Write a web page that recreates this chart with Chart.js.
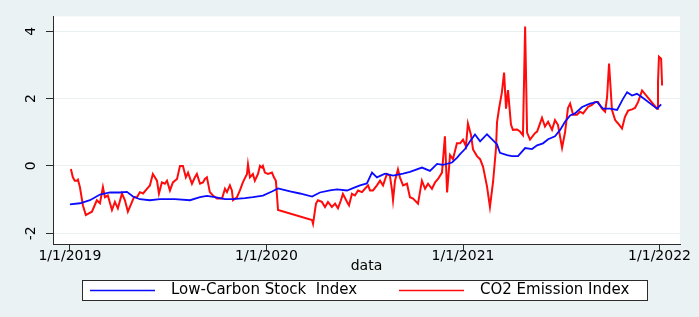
<!DOCTYPE html>
<html>
<head>
<meta charset="utf-8">
<script src="https://cdn.jsdelivr.net/npm/chart.js@4.4.1/dist/chart.umd.min.js"></script>
<style>
  html, body { margin: 0; padding: 0; background: #eaf2f3; }
  canvas { display: block; }
</style>
</head>
<body>
<canvas id="chart" width="699" height="317"></canvas>
<script>
// x positions are decimal years (2019.5 = mid 2019)
const tickYears = [2019, 2020, 2021, 2022];
const tickValues = [-2, 0, 2, 4];

const lowCarbonYears = [
  2019.000, 2019.051, 2019.102, 2019.153, 2019.204, 2019.254, 2019.290, 2019.321, 2019.356, 2019.407,
  2019.458, 2019.534, 2019.611, 2019.662, 2019.697, 2019.738, 2019.789, 2019.830, 2019.891, 2019.931,
  2019.982, 2020.028, 2020.059, 2020.120, 2020.170, 2020.232, 2020.272, 2020.323, 2020.359, 2020.410,
  2020.450, 2020.476, 2020.511, 2020.537, 2020.562, 2020.603, 2020.644, 2020.695, 2020.730, 2020.791,
  2020.832, 2020.868, 2020.898, 2020.944, 2020.969, 2020.985, 2021.010, 2021.036, 2021.061, 2021.087,
  2021.122, 2021.148, 2021.173, 2021.188, 2021.224, 2021.249, 2021.280, 2021.316, 2021.351, 2021.377,
  2021.407, 2021.433, 2021.468, 2021.494, 2021.519, 2021.545, 2021.570, 2021.606, 2021.646, 2021.682,
  2021.712, 2021.748, 2021.784, 2021.814, 2021.835, 2021.860, 2021.885, 2021.911, 2021.987, 2022.008
];
const lowCarbonValues = [
  -1.14, -1.11, -1.02, -0.85, -0.79, -0.79, -0.77, -0.91, -0.99, -1.02,
  -0.99, -0.99, -1.02, -0.93, -0.89, -0.93, -0.99, -0.99, -0.96, -0.93,
  -0.88, -0.76, -0.67, -0.76, -0.82, -0.91, -0.79, -0.73, -0.70, -0.73,
  -0.64, -0.58, -0.52, -0.20, -0.34, -0.23, -0.29, -0.23, -0.18, -0.05,
  -0.15, 0.06, 0.03, 0.10, 0.24, 0.35, 0.50, 0.73, 0.93, 0.73,
  0.94, 0.79, 0.64, 0.39, 0.32, 0.29, 0.29, 0.53, 0.50, 0.61,
  0.67, 0.79, 0.88, 1.07, 1.31, 1.50, 1.56, 1.75, 1.85, 1.90,
  1.70, 1.70, 1.66, 1.99, 2.19, 2.09, 2.14, 2.04, 1.70, 1.83
];

const co2Years = [
  2019.005, 2019.015, 2019.025, 2019.036, 2019.041, 2019.051, 2019.066, 2019.081, 2019.112, 2019.137,
  2019.153, 2019.168, 2019.178, 2019.193, 2019.214, 2019.229, 2019.244, 2019.265, 2019.280, 2019.295,
  2019.316, 2019.326, 2019.341, 2019.356, 2019.372, 2019.392, 2019.407, 2019.422, 2019.443, 2019.453,
  2019.468, 2019.483, 2019.494, 2019.509, 2019.524, 2019.545, 2019.560, 2019.575, 2019.590, 2019.601,
  2019.621, 2019.636, 2019.646, 2019.662, 2019.677, 2019.687, 2019.697, 2019.712, 2019.728, 2019.748,
  2019.774, 2019.789, 2019.799, 2019.814, 2019.824, 2019.830, 2019.850, 2019.865, 2019.880, 2019.901,
  2019.906, 2019.916, 2019.931, 2019.941, 2019.957, 2019.967, 2019.977, 2019.982, 2019.992, 2020.008,
  2020.028, 2020.038, 2020.048, 2020.059, 2020.232, 2020.237, 2020.252, 2020.262, 2020.282, 2020.298,
  2020.313, 2020.333, 2020.349, 2020.364, 2020.379, 2020.389, 2020.410, 2020.420, 2020.435, 2020.450,
  2020.466, 2020.486, 2020.501, 2020.517, 2020.527, 2020.542, 2020.562, 2020.578, 2020.593, 2020.613,
  2020.628, 2020.639, 2020.644, 2020.654, 2020.669, 2020.679, 2020.695, 2020.715, 2020.730, 2020.746,
  2020.771, 2020.791, 2020.807, 2020.822, 2020.842, 2020.858, 2020.873, 2020.893, 2020.908, 2020.919,
  2020.934, 2020.949, 2020.969, 2020.985, 2021.000, 2021.015, 2021.025, 2021.041, 2021.051, 2021.071,
  2021.087, 2021.102, 2021.122, 2021.137, 2021.153, 2021.168, 2021.173, 2021.183, 2021.198, 2021.209,
  2021.219, 2021.229, 2021.244, 2021.254, 2021.275, 2021.290, 2021.305, 2021.316, 2021.326, 2021.341,
  2021.366, 2021.377, 2021.392, 2021.402, 2021.417, 2021.433, 2021.453, 2021.468, 2021.483, 2021.504,
  2021.519, 2021.534, 2021.545, 2021.560, 2021.580, 2021.595, 2021.611, 2021.636, 2021.656, 2021.672,
  2021.687, 2021.707, 2021.723, 2021.733, 2021.743, 2021.758, 2021.774, 2021.789, 2021.809, 2021.824,
  2021.840, 2021.860, 2021.875, 2021.891, 2021.911, 2021.987, 2021.992, 2021.997, 2022.008, 2022.013
];
const co2Values = [
  -0.09, -0.34, -0.44, -0.44, -0.41, -0.63, -1.17, -1.46, -1.36, -1.02,
  -1.11, -0.63, -0.93, -0.88, -1.31, -1.07, -1.26, -0.82, -1.02, -1.36,
  -1.07, -0.93, -0.93, -0.78, -0.82, -0.68, -0.58, -0.24, -0.44, -0.82,
  -0.49, -0.53, -0.44, -0.73, -0.49, -0.39, 0.00, 0.00, -0.34, -0.20,
  -0.53, -0.34, -0.24, -0.53, -0.49, -0.39, -0.34, -0.78, -0.88, -0.97,
  -0.97, -0.68, -0.78, -0.58, -0.73, -1.02, -0.93, -0.73, -0.49, -0.24,
  0.05, -0.34, -0.24, -0.44, -0.24, 0.00, -0.05, 0.00, -0.20, -0.24,
  -0.20, -0.34, -0.44, -1.31, -1.61, -1.72, -1.12, -1.02, -1.07, -1.22,
  -1.07, -1.22, -1.12, -1.26, -1.02, -0.83, -1.07, -1.17, -0.83, -0.88,
  -0.73, -0.78, -0.68, -0.58, -0.73, -0.73, -0.58, -0.44, -0.58, -0.24,
  -0.29, -0.73, -1.02, -0.44, -0.10, -0.34, -0.58, -0.53, -0.93, -0.97,
  -1.12, -0.44, -0.68, -0.53, -0.68, -0.49, -0.39, -0.20, 0.88, -0.79,
  0.32, 0.20, 0.67, 0.67, 0.78, 0.58, 1.26, 0.91, 0.49, 0.29,
  0.20, -0.03, -0.61, -1.22, -0.47, 0.53, 1.29, 1.69, 2.19, 2.77,
  1.70, 2.25, 1.23, 1.07, 1.08, 1.02, 0.91, 4.14, 0.99, 0.78,
  0.97, 1.02, 1.26, 1.43, 1.17, 1.31, 1.07, 1.36, 1.22, 0.54,
  0.99, 1.72, 1.85, 1.52, 1.52, 1.61, 1.56, 1.75, 1.81, 1.90,
  1.90, 1.70, 1.61, 2.04, 3.04, 1.66, 1.36, 1.26, 1.11, 1.46,
  1.64, 1.68, 1.72, 1.90, 2.24, 1.70, 2.48, 3.24, 3.18, 2.39
];

const FONT = "'DejaVu Sans', sans-serif";

const toPoints = (xs, ys) => xs.map((x, i) => ({ x: x, y: ys[i] }));

// white plot region on the bluish page
const plotBg = {
  id: 'plotBg',
  beforeDraw(chart) {
    const c = chart.ctx;
    const a = chart.chartArea;
    c.save();
    c.fillStyle = '#eaf2f3';
    c.fillRect(0, 0, chart.width, chart.height);
    c.fillStyle = '#ffffff';
    c.fillRect(a.left, a.top, a.right - a.left, a.bottom - a.top);
    c.restore();
  }
};

// stata-like legend in a framed box below the axis title
const boxedLegend = {
  id: 'boxedLegend',
  afterDraw(chart) {
    const c = chart.ctx;
    const left = 82, right = 647, top = 280, h = 20;
    const starts = [90, 399];
    const mid = top + h / 2 + 0.5;
    c.save();
    c.fillStyle = '#ffffff';
    c.fillRect(left, top, right - left, h);
    c.strokeStyle = '#2b2b2b';
    c.lineWidth = 1;
    c.strokeRect(left + 0.5, top + 0.5, right - left, h);
    chart.data.datasets.forEach((ds, i) => {
      c.strokeStyle = ds.borderColor;
      c.lineWidth = 1.3;
      c.beginPath();
      c.moveTo(starts[i], mid);
      c.lineTo(starts[i] + 65, mid);
      c.stroke();
      c.fillStyle = '#000000';
      c.font = '15px ' + FONT;
      c.textBaseline = 'middle';
      c.fillText(ds.label, starts[i] + 81, mid);
    });
    c.restore();
  }
};

new Chart(document.getElementById('chart'), {
  type: 'line',
  data: {
    datasets: [
      {
        label: 'Low-Carbon Stock  Index',
        data: toPoints(lowCarbonYears, lowCarbonValues),
        borderColor: '#0b0bff',
        borderWidth: 1.8,
        pointRadius: 0,
        tension: 0
      },
      {
        label: 'CO2 Emission Index',
        data: toPoints(co2Years, co2Values),
        borderColor: '#ff0b0b',
        borderWidth: 2,
        pointRadius: 0,
        tension: 0
      }
    ]
  },
  options: {
    responsive: false,
    animation: false,
    layout: { padding: { top: 12, right: 19, bottom: 23, left: 0 } },
    plugins: {
      legend: { display: false },
      tooltip: { enabled: false }
    },
    scales: {
      x: {
        type: 'linear',
        min: 2018.914,
        max: 2022.104,
        afterBuildTicks: (s) => { s.ticks = tickYears.map((v) => ({ value: v })); },
        afterFit: (s) => { s.height = 50; },
        ticks: {
          callback: (v) => '1/1/' + v,
          font: { family: FONT, size: 14 },
          color: '#000000',
          padding: -2,
          maxRotation: 0
        },
        grid: { drawOnChartArea: false, tickLength: 6, tickColor: '#2b2b2b', tickWidth: 1 },
        border: { color: '#2b2b2b', width: 1 },
        title: {
          display: true,
          text: 'data',
          font: { family: FONT, size: 14 },
          color: '#000000',
          padding: { top: 0, bottom: 19 }
        }
      },
      y: {
        min: -2.32,
        max: 4.44,
        afterBuildTicks: (s) => { s.ticks = tickValues.map((v) => ({ value: v })); },
        afterFit: (s) => { s.width = 53; },
        ticks: {
          minRotation: 90,
          maxRotation: 90,
          crossAlign: 'center',
          padding: 8,
          font: { family: FONT, size: 14 },
          color: '#000000'
        },
        grid: { color: '#e8f0f2', lineWidth: 1, tickLength: 7, tickColor: '#2b2b2b', tickWidth: 1 },
        border: { color: '#2b2b2b', width: 1 }
      }
    }
  },
  plugins: [plotBg, boxedLegend]
});
</script>
</body>
</html>
